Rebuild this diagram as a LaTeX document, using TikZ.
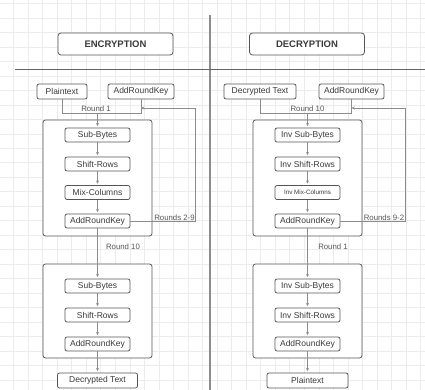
\documentclass[tikz,border=0pt]{standalone}
\usepackage{fontspec}
\setmainfont{Liberation Sans}
\usetikzlibrary{arrows.meta}
\definecolor{boxc}{HTML}{555555}
\definecolor{txtc}{HTML}{3A3A3A}
\definecolor{conc}{HTML}{8C8C8C}
\definecolor{gridc}{HTML}{ECECEC}
\tikzset{
  gridline/.style={draw=gridc, line width=0.6pt},
  titlebox/.style={draw=boxc, line width=0.8pt, rounded corners=3pt, fill=white, minimum width=115pt, minimum height=22pt, inner sep=0pt, text=txtc, font=\fontsize{9.5}{10}\selectfont\bfseries},
  smallbox/.style={draw=boxc, line width=0.75pt, rounded corners=2pt, fill=white, minimum height=15pt, inner sep=0pt, text=txtc, font=\fontsize{8.5}{9}\selectfont},
  stepbox/.style={smallbox, minimum width=65pt, minimum height=14pt},
  outerbox/.style={draw=boxc, line width=0.8pt, rounded corners=2.5pt, fill=white, minimum width=109pt, inner sep=0pt},
  conn/.style={draw=conc, line width=0.6pt},
  arr/.style={conn, -{Stealth[length=3.2pt,width=3pt]}, shorten >=1.5pt},
  lbl/.style={text=txtc!85, font=\fontsize{7.8}{8}\selectfont, inner sep=0pt},
  divline/.style={draw=black!45, line width=1.2pt},
}
\begin{document}
\begin{tikzpicture}[x=1pt,y=-1pt]
\fill[white] (0,0) rectangle (425,390);
\useasboundingbox (0,0) rectangle (425,390);
% grid
\foreach \i in {0,...,28} \draw[gridline] ({13.5+14.54*\i},0) -- ({13.5+14.54*\i},390);
\foreach \j in {0,...,26} \draw[gridline] (0,{3.5+14.48*\j}) -- (425,{3.5+14.48*\j});
% dividers
\draw[divline] (210,15) -- (210,390);
\draw[draw=black!60, line width=1pt] (15,70) -- (425,70);

% ---------- ENCRYPTION ----------
\node[titlebox] (enct) at (115.5,44) {ENCRYPTION};
\node[smallbox, minimum width=50pt] (pt1) at (62,91.5) {Plaintext};
\node[smallbox, minimum width=66pt] (ark0) at (141,91.5) {AddRoundKey};
\node[outerbox, minimum height=116pt] (out1) at (97.5,178) {};
\node[stepbox] (sb1) at (97.5,135) {Sub-Bytes};
\node[stepbox] (sr1) at (97.5,164) {Shift-Rows};
\node[stepbox] (mc1) at (97.5,192.5) {Mix-Columns};
\node[stepbox] (ark1) at (97.5,221) {AddRoundKey};
\node[outerbox, minimum height=94pt] (out2) at (97.5,311) {};
\node[stepbox] (sb2) at (97.5,286) {Sub-Bytes};
\node[stepbox] (sr2) at (97.5,315) {Shift-Rows};
\node[stepbox] (ark2) at (97.5,344) {AddRoundKey};
\node[smallbox, minimum width=80pt] (dt1) at (97.5,380.5) {Decrypted Text};

\coordinate (j1) at (97.5,113);
\coordinate (fb1) at (195,108);
\draw[conn] (pt1.south) -- (pt1.south |- j1) -- (ark0.south |- j1) -- (ark0.south);
\node[lbl] (r1) at (96,108.5) {Round 1};
\draw[arr] (j1) -- (sb1.north);
\draw[arr] (sb1) -- (sr1);
\draw[arr] (sr1) -- (mc1);
\draw[arr] (mc1) -- (ark1);
\draw[conn] (ark1.east) -| (fb1);
\draw[arr, shorten >=0pt] (fb1) -- (ark0.south |- fb1);
\node[lbl] (r29) at (174.5,217.5) {Rounds 2-9};
\draw[arr] (ark1) -- (sb2);
\node[lbl] (r10) at (123,247) {Round 10};
\draw[arr] (sb2) -- (sr2);
\draw[arr] (sr2) -- (ark2);
\draw[arr] (ark2) -- (dt1);

% ---------- DECRYPTION ----------
\node[titlebox] (dect) at (307,44) {DECRYPTION};
\node[smallbox, minimum width=72pt] (dt2) at (260,91.5) {Decrypted Text};
\node[smallbox, minimum width=65pt] (ark3) at (351.5,91.5) {AddRoundKey};
\node[outerbox, minimum height=116pt] (out3) at (307.5,178) {};
\node[stepbox] (isb1) at (307.5,135) {Inv Sub-Bytes};
\node[stepbox] (isr1) at (307.5,164) {Inv Shift-Rows};
\node[stepbox, font=\fontsize{6.3}{7}\selectfont] (imc1) at (307.5,192.5) {Inv Mix-Columns};
\node[stepbox] (ark4) at (307.5,221) {AddRoundKey};
\node[outerbox, minimum height=94pt] (out4) at (307.5,311) {};
\node[stepbox] (isb2) at (307.5,286) {Inv Sub-Bytes};
\node[stepbox] (isr2) at (307.5,315) {Inv Shift-Rows};
\node[stepbox] (ark5) at (307.5,344) {AddRoundKey};
\node[smallbox, minimum width=81pt] (pt2) at (307.5,380.5) {Plaintext};

\coordinate (j2) at (307.5,113);
\coordinate (fb2) at (405,108);
\draw[conn] (dt2.south) -- (dt2.south |- j2) -- (ark3.south |- j2) -- (ark3.south);
\node[lbl] (r10b) at (307.5,108.5) {Round 10};
\draw[arr] (j2) -- (isb1.north);
\draw[arr] (isb1) -- (isr1);
\draw[arr] (isr1) -- (imc1);
\draw[arr] (imc1) -- (ark4);
\draw[conn] (ark4.east) -| (fb2);
\draw[arr, shorten >=0pt] (fb2) -- (ark3.south |- fb2);
\node[lbl] (r92) at (384,217.5) {Rounds 9-2};
\draw[arr] (ark4) -- (isb2);
\node[lbl] (r1b) at (333,247) {Round 1};
\draw[arr] (isb2) -- (isr2);
\draw[arr] (isr2) -- (ark5);
\draw[arr] (ark5) -- (pt2);
\end{tikzpicture}
\end{document}
